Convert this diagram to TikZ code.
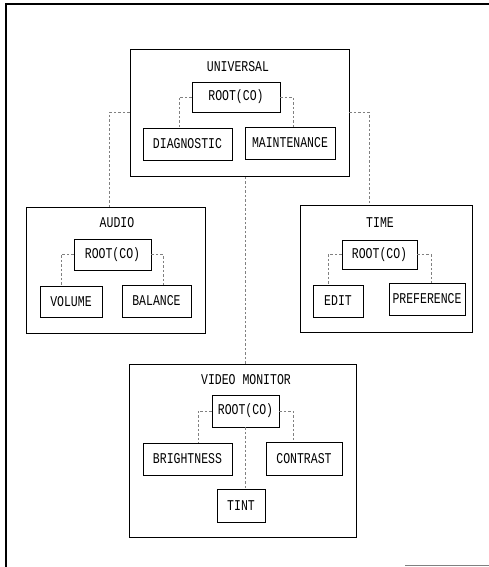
\documentclass[tikz,border=0pt]{standalone}
\usepackage{fontspec}
\setmonofont{Liberation Mono}
\usetikzlibrary{calc}
\usetikzlibrary{positioning}

\newcommand{\boxtxt}[1]{\scalebox{1}[1.3]{\ttfamily #1}}
\tikzset{
  unit/.style={draw, line width=.8pt, inner sep=0pt, font=\fontsize{11.5}{13}\selectfont},
  grp/.style={draw, line width=.8pt, inner sep=0pt},
  link/.style={dashed, dash pattern=on 2.5pt off 2pt, gray, line width=.5pt},
}

\begin{document}
\begin{tikzpicture}[x=1pt, y=-1pt]
\useasboundingbox (0,0) rectangle (489,567);
% outer frame
\coordinate (F1) at (489,4);
\coordinate (F2) at (6,4);
\coordinate (F3) at (6,567);
\draw[line width=1.2pt] (F1) -- (F2) -- (F3);
\coordinate (F4) at (405,565);
\coordinate (F5) at (489,565);
\draw[line width=.8pt, gray] (F4) -- (F5);

% group boxes
\node[grp, minimum width=219, minimum height=127] (univ) at (239.5,112.5) {};
\node[grp, minimum width=179, minimum height=126] (audio) at (115.5,270) {};
\node[grp, minimum width=172, minimum height=127] (time) at (386,268.5) {};
\node[grp, minimum width=227, minimum height=173] (video) at (242.5,450.5) {};

\node[font=\fontsize{11.5}{13}\selectfont] (univlbl) at (238,67) {\boxtxt{UNIVERSAL}};
\node[font=\fontsize{11.5}{13}\selectfont] (audiolbl) at (117,223) {\boxtxt{AUDIO}};
\node[font=\fontsize{11.5}{13}\selectfont] (timelbl) at (380,223) {\boxtxt{TIME}};
\node[font=\fontsize{11.5}{13}\selectfont] (videolbl) at (246,380) {\boxtxt{VIDEO MONITOR}};

% universal
\node[unit, minimum width=88, minimum height=30] (uroot) at (236,97) {\boxtxt{ROOT(CO)}};
\node[unit, minimum width=89, minimum height=32] (udiag) at (187.5,144) {\boxtxt{DIAGNOSTIC}};
\node[unit, minimum width=90, minimum height=32] (umaint) at (290,143) {\boxtxt{MAINTENANCE}};
\draw[link] (uroot.west) -| ([xshift=-8.5pt]udiag.north);
\draw[link] (uroot.east) -| ([xshift=3pt]umaint.north);

% audio
\node[unit, minimum width=77, minimum height=31] (aroot) at (112.5,254.5) {\boxtxt{ROOT(CO)}};
\node[unit, minimum width=62, minimum height=31] (avol) at (71,301.5) {\boxtxt{VOLUME}};
\node[unit, minimum width=69, minimum height=32] (abal) at (156.5,301) {\boxtxt{BALANCE}};
\draw[link] (aroot.west) -| ([xshift=-10pt]avol.north);
\draw[link] (aroot.east) -| ([xshift=6.5pt]abal.north);

% time
\node[unit, minimum width=75, minimum height=29] (troot) at (379.5,254.5) {\boxtxt{ROOT(CO)}};
\node[unit, minimum width=50, minimum height=32] (tedit) at (338,301) {\boxtxt{EDIT}};
\node[unit, minimum width=76, minimum height=32] (tpref) at (427,299) {\boxtxt{PREFERENCE}};
\draw[link] (troot.west) -| ([xshift=-10pt]tedit.north);
\draw[link] (troot.east) -| ([xshift=4pt]tpref.north);

% video monitor
\node[unit, minimum width=67, minimum height=32] (vroot) at (245.5,411) {\boxtxt{ROOT(CO)}};
\node[unit, minimum width=89, minimum height=32] (vbright) at (187.5,459) {\boxtxt{BRIGHTNESS}};
\node[unit, minimum width=76, minimum height=33] (vcontr) at (304,458.5) {\boxtxt{CONTRAST}};
\node[unit, minimum width=48, minimum height=33] (vtint) at (241,505.5) {\boxtxt{TINT}};
\draw[link] (vroot.west) -| ([xshift=10.5pt]vbright.north);
\draw[link] (vroot.east) -| ([xshift=-11pt]vcontr.north);
\draw[link] (vroot.south) -- (vroot.south |- vtint.north);

% between groups
\draw[link] (univ.west) -| ([xshift=-6pt]audio.north);
\draw[link] (univ.east) -| ([xshift=-17pt]time.north);
\draw[link] ([xshift=2.5pt]video.north) -- ([xshift=2.5pt]video.north |- univ.south);

\end{tikzpicture}
\end{document}
